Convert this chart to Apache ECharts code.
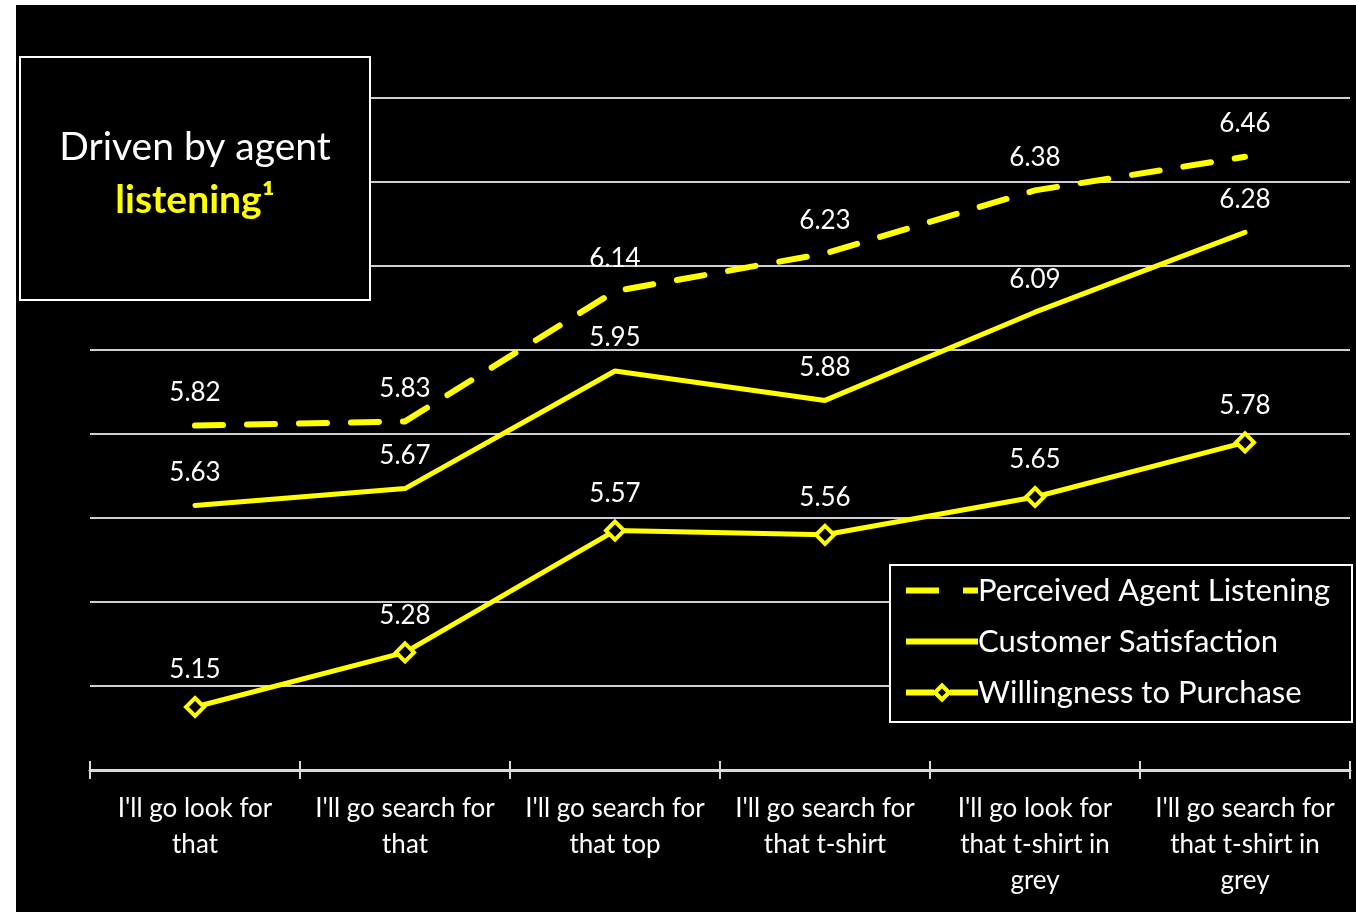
<!DOCTYPE html>
<html>
<head>
<meta charset="utf-8">
<script src="https://cdn.jsdelivr.net/npm/echarts@6/dist/echarts.min.js"></script>
<style>
  html, body { margin: 0; padding: 0; background: #ffffff; width: 1356px; height: 912px; overflow: hidden; }
  #chart { position: absolute; left: 16px; top: 5px; width: 1340px; height: 907px; background: #000000; }
</style>
</head>
<body>
<div id="chart"></div>
<script>
const categories = [
  "I'll go look for\nthat",
  "I'll go search for\nthat",
  "I'll go search for\nthat top",
  "I'll go search for\nthat t-shirt",
  "I'll go look for\nthat t-shirt in\ngrey",
  "I'll go search for\nthat t-shirt in\ngrey"
];
const perceivedListening = [5.82, 5.83, 6.14, 6.23, 6.38, 6.46];
const customerSatisfaction = [5.63, 5.67, 5.95, 5.88, 6.09, 6.28];
const willingnessToPurchase = [5.15, 5.28, 5.57, 5.56, 5.65, 5.78];
const seriesNames = ['Perceived Agent Listening', 'Customer Satisfaction', 'Willingness to Purchase'];
const yMin = 5.0, yMax = 6.6, yStep = 0.2;

const FONT = 'Lato, "Open Sans", sans-serif';
const YELLOW = '#ffff00';
const GRID_COLOR = '#cfcfcf';

// legend icons (72 x 18 box; tiny corner specks fix the bounding box)
const SPECKS = 'M0 0 L0.01 0 L0 0.01 Z M72 20 L71.99 20 L72 19.99 Z ';
const ICON_DASH = 'path://' + SPECKS + 'M0 7 L33 7 L33 13 L0 13 Z M57 7 L72 7 L72 13 L57 13 Z';
const ICON_SOLID = 'path://' + SPECKS + 'M0 7 L72 7 L72 13 L0 13 Z';
const ICON_DIAMOND = 'path://' + SPECKS +
  'M0 7 L28 7 L28 13 L0 13 Z M44 7 L72 7 L72 13 L44 13 Z ' +
  'M36 0 L46 10 L36 20 L26 10 Z M36 6 L32 10 L36 14 L40 10 Z';
const ICON_STYLE = { color: YELLOW, borderWidth: 0, borderColor: 'transparent' };

const chart = echarts.init(document.getElementById('chart'));

function labelCfg(dist) {
  return {
    show: true,
    position: 'top',
    distance: dist,
    color: '#ffffff',
    fontFamily: FONT,
    fontSize: 26,
    formatter: p => p.value.toFixed(2)
  };
}

chart.setOption({
  backgroundColor: '#000000',
  animation: false,
  grid: { left: 74, right: 6, top: 93, bottom: 142 },
  xAxis: [
    {
      type: 'category',
      data: categories,
      boundaryGap: true,
      position: 'bottom',
      axisLine: { show: true, lineStyle: { color: '#d9d9d9', width: 3 } },
      axisTick: { show: true, length: 9, lineStyle: { color: '#d9d9d9', width: 2 } },
      axisLabel: {
        color: '#ffffff', fontFamily: FONT, fontSize: 26, lineHeight: 36,
        margin: 21, interval: 0
      }
    },
    {
      type: 'category',
      data: categories,
      boundaryGap: true,
      position: 'bottom',
      axisLine: { show: false },
      axisTick: { show: true, inside: true, length: 9, lineStyle: { color: '#d9d9d9', width: 2 } },
      axisLabel: { show: false }
    }
  ],
  yAxis: {
    type: 'value',
    min: yMin, max: yMax, interval: yStep,
    axisLine: { show: false },
    axisTick: { show: false },
    axisLabel: { show: false },
    splitLine: { show: true, lineStyle: { color: GRID_COLOR, width: 2 } }
  },
  legend: {
    orient: 'vertical',
    left: 885, top: 565,
    itemWidth: 72, itemHeight: 20,
    itemGap: 20,
    symbolKeepAspect: false,
    z: 20,
    textStyle: { color: '#ffffff', fontFamily: FONT, fontSize: 31, padding: [0, 0, 0, -5] },
    data: [
      { name: seriesNames[0], icon: ICON_DASH, itemStyle: ICON_STYLE },
      { name: seriesNames[1], icon: ICON_SOLID, itemStyle: ICON_STYLE },
      { name: seriesNames[2], icon: ICON_DIAMOND, itemStyle: ICON_STYLE }
    ]
  },
  graphic: [
    {
      type: 'rect', z: 10,
      shape: { x: 4, y: 52, width: 350, height: 243 },
      style: { fill: '#000000', stroke: '#ffffff', lineWidth: 2 }
    },
    {
      type: 'text', z: 11,
      x: 179, y: 142,
      style: { text: 'Driven by agent', fill: '#ffffff', font: '39px ' + FONT, align: 'center', verticalAlign: 'middle' }
    },
    {
      type: 'text', z: 11,
      x: 179, y: 195,
      style: { text: 'listening¹', fill: YELLOW, font: 'bold 39px ' + FONT, align: 'center', verticalAlign: 'middle' }
    },
    {
      type: 'rect', z: 10,
      shape: { x: 874, y: 560, width: 462, height: 157 },
      style: { fill: '#000000', stroke: '#ffffff', lineWidth: 2 }
    }
  ],
  series: [
    {
      name: seriesNames[0],
      type: 'line',
      data: perceivedListening,
      symbol: 'circle',
      symbolSize: 0.1,
      lineStyle: { color: YELLOW, width: 6, type: [28, 24], cap: 'round' },
      itemStyle: { color: YELLOW },
      label: labelCfg(20)
    },
    {
      name: seriesNames[1],
      type: 'line',
      data: customerSatisfaction,
      symbol: 'circle',
      symbolSize: 0.1,
      lineStyle: { color: YELLOW, width: 5, cap: 'round' },
      itemStyle: { color: YELLOW },
      label: labelCfg(20)
    },
    {
      name: seriesNames[2],
      type: 'line',
      data: willingnessToPurchase,
      symbol: 'diamond',
      symbolSize: 18,
      lineStyle: { color: YELLOW, width: 5, cap: 'round' },
      itemStyle: { color: '#000000', borderColor: YELLOW, borderWidth: 4 },
      label: labelCfg(13)
    }
  ]
});
</script>
</body>
</html>
